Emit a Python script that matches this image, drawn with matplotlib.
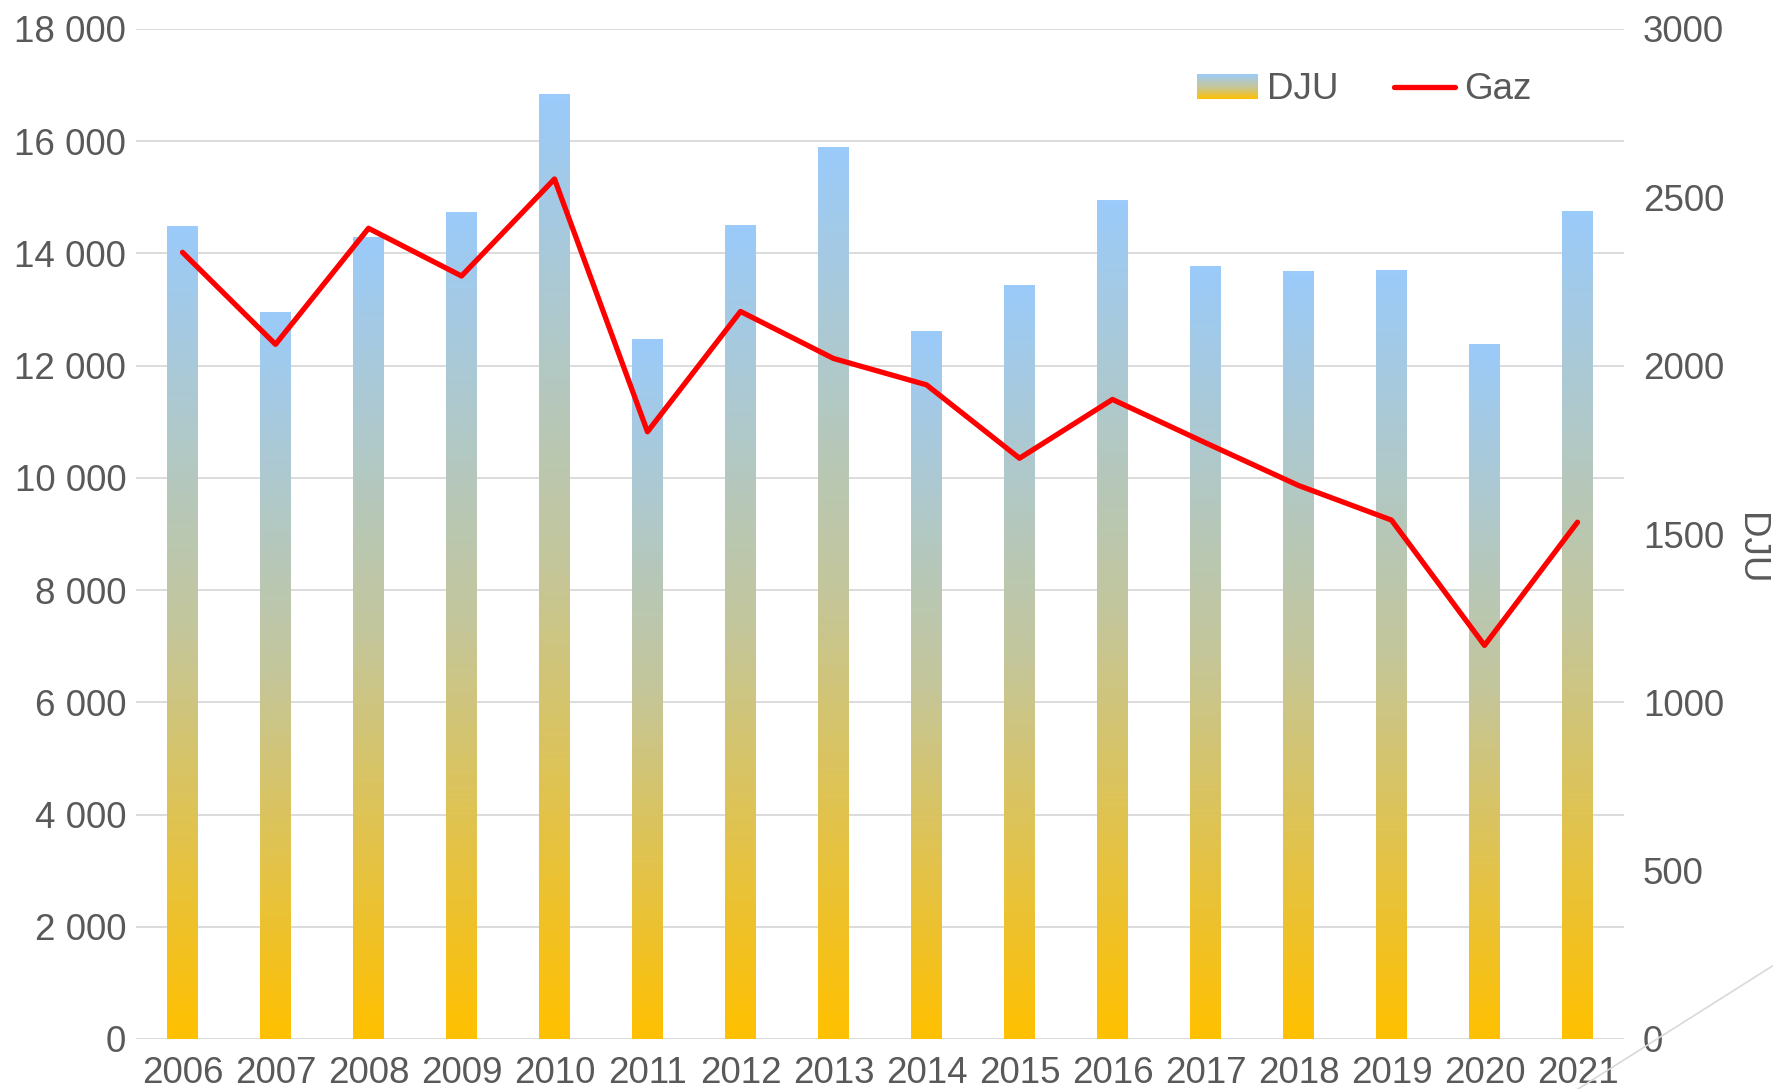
import numpy as np
import matplotlib
matplotlib.use("Agg")
import matplotlib.pyplot as plt
from matplotlib.colors import LinearSegmentedColormap
from matplotlib.legend_handler import HandlerBase
from matplotlib.patches import Rectangle
from matplotlib.lines import Line2D

# ---- data ----
years = ["2006", "2007", "2008", "2009", "2010", "2011", "2012", "2013",
         "2014", "2015", "2016", "2017", "2018", "2019", "2020", "2021"]
dju = [2413, 2157, 2382, 2456, 2804, 2077, 2415, 2649,
       2102, 2239, 2492, 2296, 2281, 2284, 2064, 2459]
gaz = [14020, 12380, 14448, 13598, 15327, 10822, 12966, 12128,
       11658, 10350, 11398, 10625, 9865, 9248, 7015, 9210]
gaz_ticks = [0, 2000, 4000, 6000, 8000, 10000, 12000, 14000, 16000, 18000]
dju_ticks = [0, 500, 1000, 1500, 2000, 2500, 3000]

FONT = ["Liberation Sans", "DejaVu Sans"]
plt.rcParams["font.family"] = FONT
TXT = "#595959"
FS = 26.5

cmap = LinearSegmentedColormap.from_list(
    "djugrad", [(0.0, "#FFC000"), (0.5, "#C4C69A"), (1.0, "#9BCBFA")])

fig = plt.figure(figsize=(17.74, 10.89), dpi=100)
rect = [136 / 1774, 1 - 1039 / 1089, (1624 - 136) / 1774, (1039 - 29) / 1089]

# bottom layer: gas scale, grid and left ticks
ax = fig.add_axes(rect)
ax.set_ylim(0, 18000)
ax.set_yticks(gaz_ticks)
ax.set_yticklabels([f"{v:,}".replace(",", " ") for v in gaz_ticks])
ax.grid(axis="y", color="#D9D9D9", lw=1.3)
ax.set_axisbelow(True)
x = np.arange(len(years))
ax.set_xlim(-0.5, len(years) - 0.5)
ax.set_xticks(x)
ax.set_xticklabels(years)
ax.tick_params(axis="y", length=0, pad=7, labelsize=FS, labelcolor=TXT)
ax.tick_params(axis="x", length=0, pad=12, labelsize=FS, labelcolor=TXT)
for s in ax.spines.values():
    s.set_visible(False)

# middle layer: DJU bars on right scale
ax2 = ax.twinx()
ax2.set_ylim(0, 3000)
ax2.set_yticks(dju_ticks)
ax2.set_yticklabels([str(v) for v in dju_ticks])
ax2.tick_params(axis="y", length=0, pad=13.5, labelsize=FS, labelcolor=TXT)
ax2.set_ylabel("DJU", rotation=270, fontsize=FS, color=TXT,
               va="center", ha="center")
ax2.yaxis.set_label_coords(1.085, 0.485)
for s in ax2.spines.values():
    s.set_visible(False)
bars = ax2.bar(x, dju, width=0.33, color="none", edgecolor="none")
grad = np.linspace(0, 1, 256).reshape(-1, 1)
for b in bars:
    x0 = b.get_x()
    ax2.imshow(grad, extent=[x0, x0 + b.get_width(), 0, b.get_height()],
               origin="lower", aspect="auto", cmap=cmap, interpolation="bilinear",
               zorder=2)
ax2.set_xlim(-0.5, len(years) - 0.5)
ax2.set_ylim(0, 3000)

# top layer: gas line
ax3 = ax.twinx()
ax3.set_ylim(0, 18000)
ax3.set_yticks([])
for s in ax3.spines.values():
    s.set_visible(False)
ax3.plot(x, gaz, color="#FF0000", lw=3.8, solid_joinstyle="round",
         solid_capstyle="round", zorder=3)
ax3.set_xlim(-0.5, len(years) - 0.5)


class GradHandler(HandlerBase):
    def create_artists(self, legend, orig_handle, xdescent, ydescent,
                       width, height, fontsize, trans):
        n = 24
        arts = []
        for i in range(n):
            r = Rectangle((-xdescent, -ydescent + height * i / n), width,
                          height / n + 0.3, facecolor=cmap((i + 0.5) / n),
                          edgecolor="none", transform=trans)
            arts.append(r)
        return arts


proxy_bar = Rectangle((0, 0), 1, 1)
proxy_line = Line2D([], [], color="#FF0000", lw=3.8, solid_capstyle="round")
fig.legend([proxy_bar, proxy_line], ["DJU", "Gaz"], loc="center",
           bbox_to_anchor=(1364 / 1774, 1 - 90 / 1089), ncol=2, frameon=False,
           fontsize=FS, labelcolor=TXT, handlelength=1.66, handleheight=0.68,
           handletextpad=0.25, columnspacing=1.5, borderpad=0,
           handler_map={Rectangle: GradHandler()})

# decorative diagonal line at bottom right
fig.add_artist(Line2D([1578 / 1774, 1.0], [0.0, 1 - 965 / 1089],
                      transform=fig.transFigure, color="#D9D9D9", lw=1.2))

fig.savefig("out.png", dpi=100)
